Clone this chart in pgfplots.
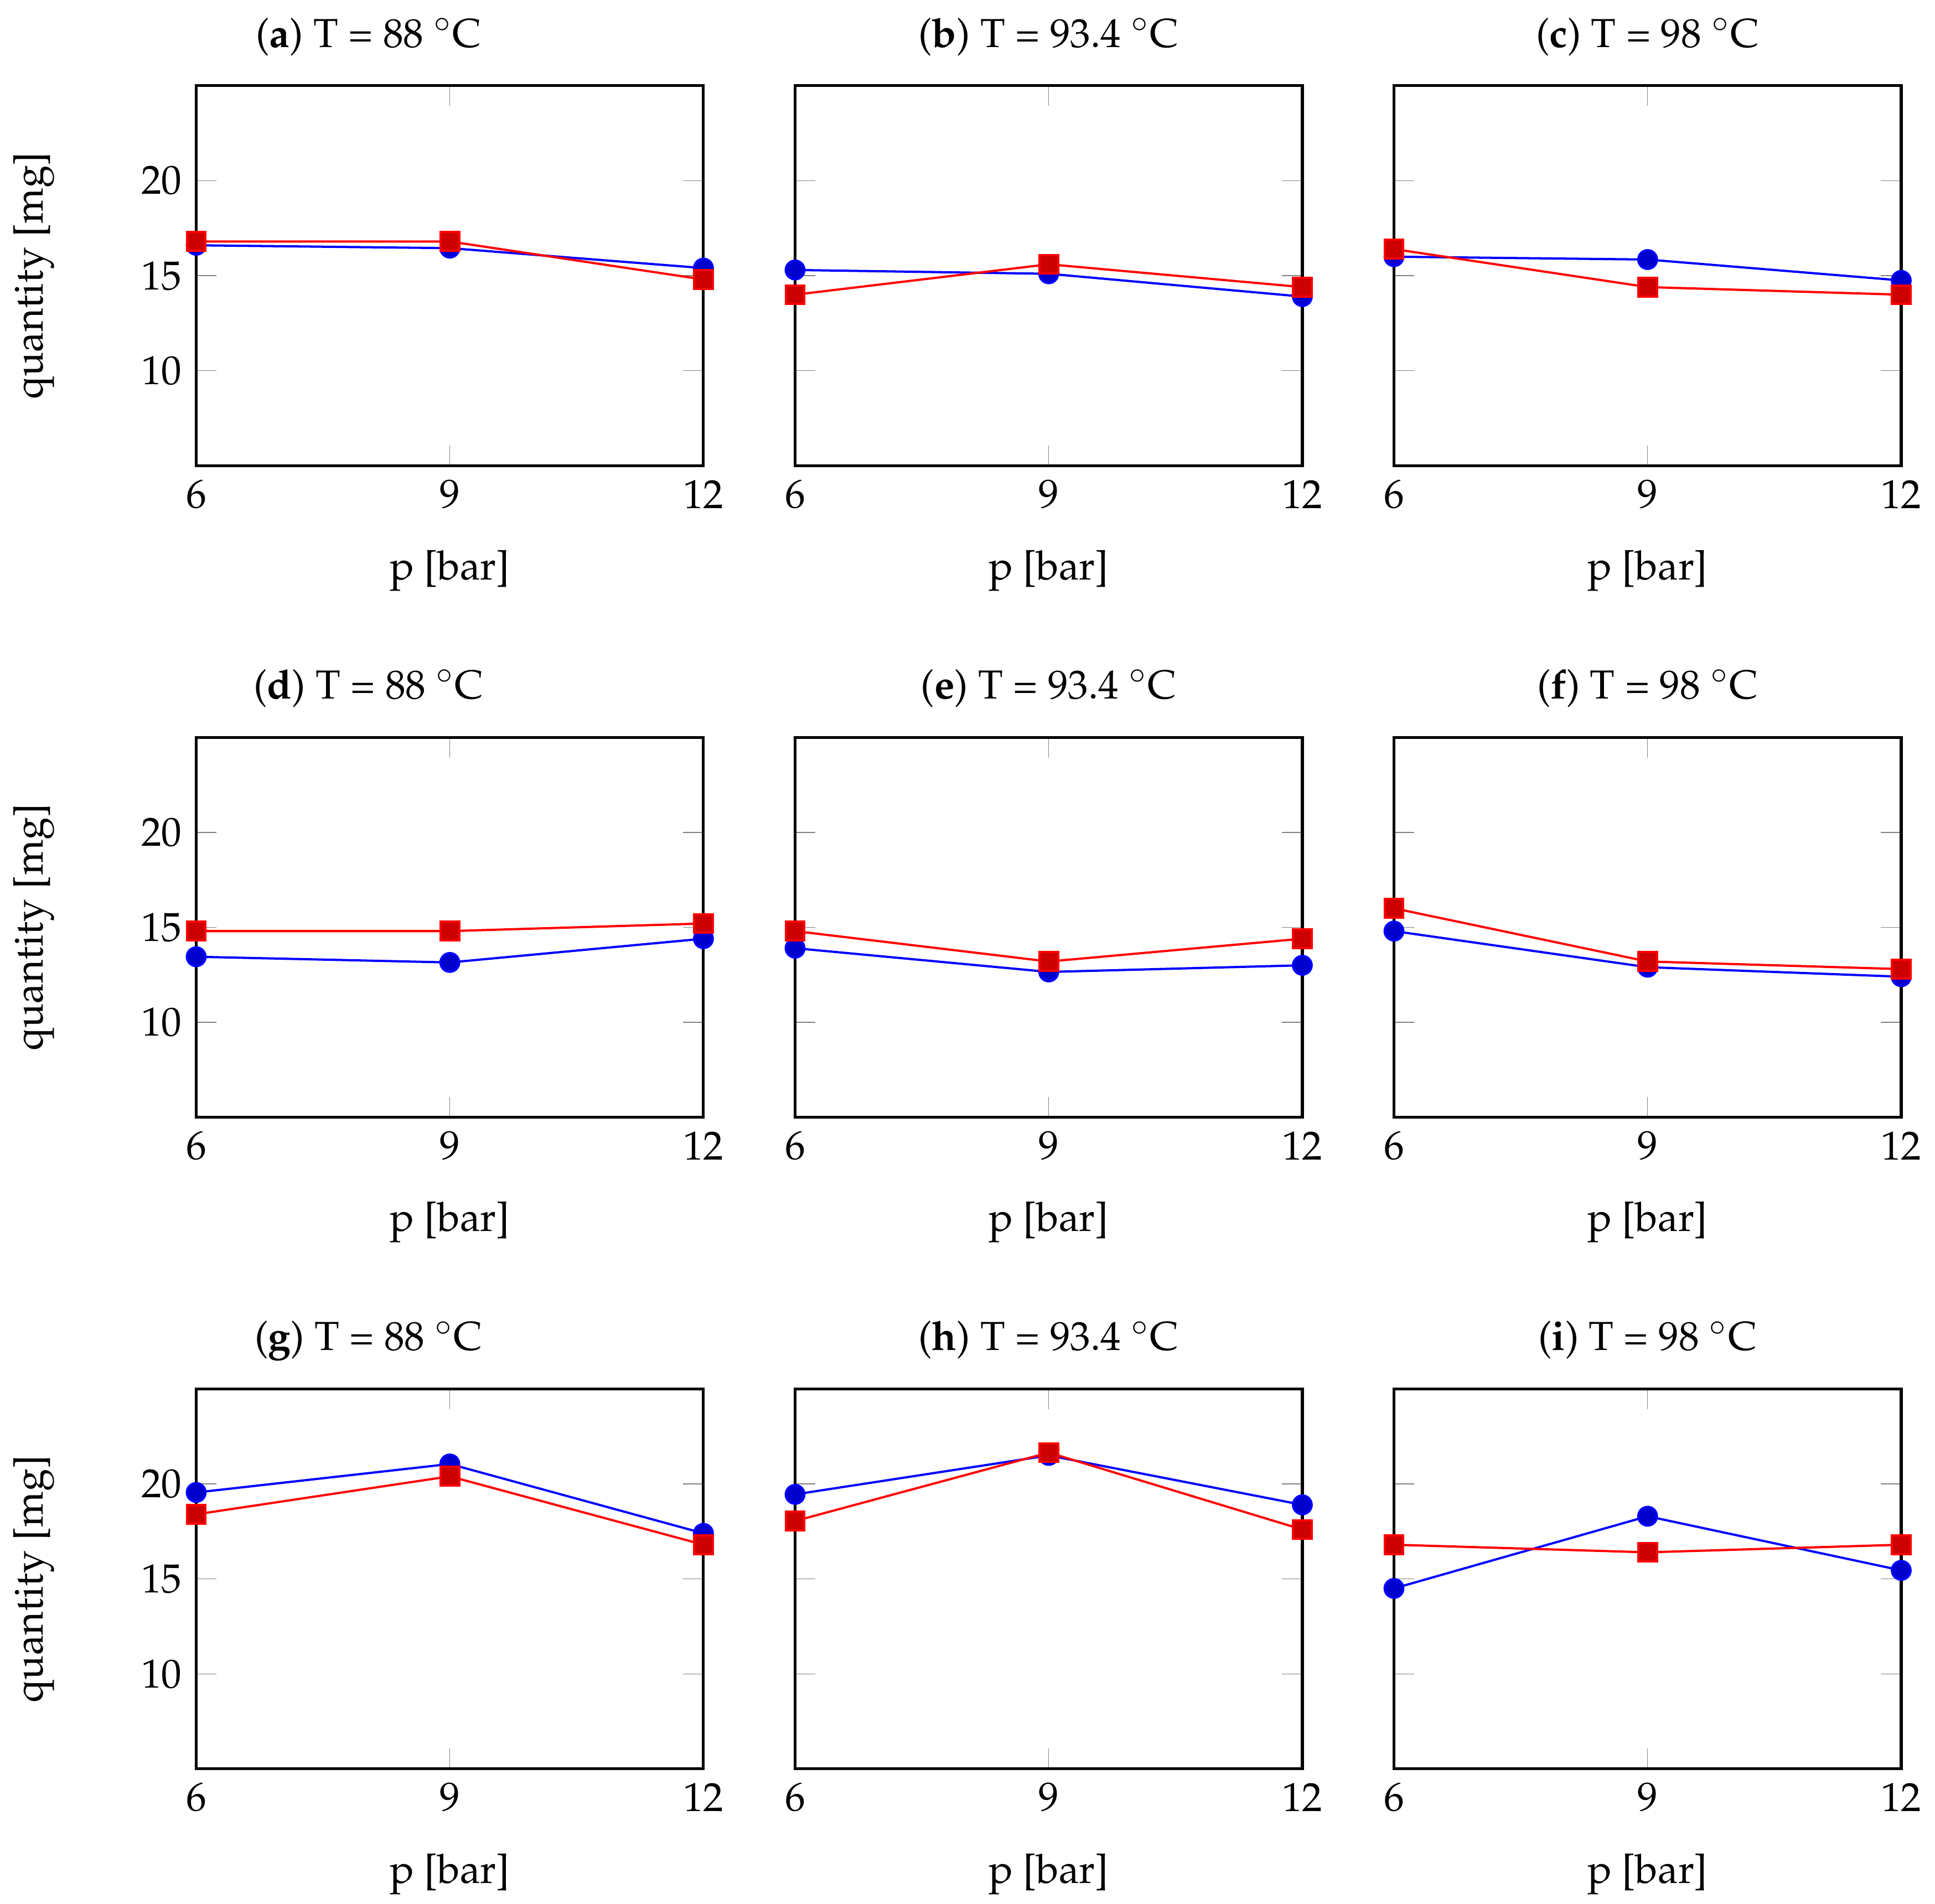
\documentclass[border=0pt]{standalone}
\usepackage[T1]{fontenc}
\usepackage{mathpazo}
\usepackage{pgfplots}
\pgfplotsset{compat=1.18}
\usepgfplotslibrary{groupplots}

\newcommand{\ttl}[2]{(\textbf{#1}) T = #2 $^{\circ}$C}

\begin{document}
\begin{tikzpicture}
\begin{groupplot}[
    group style={group size=3 by 3, horizontal sep=22.6pt, vertical sep=67pt,
                 yticklabels at=edge left, ylabels at=edge left},
    scale only axis, width=125.1pt, height=93.7pt,
    xmin=6, xmax=12, ymin=5, ymax=25,
    xtick={6,9,12}, ytick={10,15,20},
    xlabel={p [bar]}, ylabel={quantity [mg]},
    xlabel shift=4.5pt, ylabel shift=14.6pt,
    xlabel style={inner ysep=2.3pt},
    tick style={gray}, major tick length=5pt,
    axis line style={line width=0.7pt},
    every axis title/.style={at={(0.5,1)}, anchor=base, yshift=9.5pt, inner ysep=4.4pt},
    every axis plot/.append style={line width=0.55pt, mark size=2.3pt},
]
% row 1
\nextgroupplot[title={\ttl{a}{88}}, title style={xshift=-20pt}]
\addplot[blue, mark=*, mark options={fill=blue!80!black}] coordinates {(6,16.6) (9,16.45) (12,15.4)};
\addplot[red, mark=square*, mark options={fill=red!80!black}] coordinates {(6,16.8) (9,16.8) (12,14.8)};
\nextgroupplot[title={\ttl{b}{93.4}}]
\addplot[blue, mark=*, mark options={fill=blue!80!black}] coordinates {(6,15.3) (9,15.1) (12,13.9)};
\addplot[red, mark=square*, mark options={fill=red!80!black}] coordinates {(6,14.0) (9,15.6) (12,14.4)};
\nextgroupplot[title={\ttl{c}{98}}]
\addplot[blue, mark=*, mark options={fill=blue!80!black}] coordinates {(6,16.0) (9,15.85) (12,14.75)};
\addplot[red, mark=square*, mark options={fill=red!80!black}] coordinates {(6,16.4) (9,14.4) (12,14.0)};
% row 2
\nextgroupplot[title={\ttl{d}{88}}, title style={xshift=-20pt}]
\addplot[blue, mark=*, mark options={fill=blue!80!black}] coordinates {(6,13.45) (9,13.15) (12,14.4)};
\addplot[red, mark=square*, mark options={fill=red!80!black}] coordinates {(6,14.8) (9,14.8) (12,15.2)};
\nextgroupplot[title={\ttl{e}{93.4}}]
\addplot[blue, mark=*, mark options={fill=blue!80!black}] coordinates {(6,13.9) (9,12.65) (12,13.0)};
\addplot[red, mark=square*, mark options={fill=red!80!black}] coordinates {(6,14.8) (9,13.2) (12,14.4)};
\nextgroupplot[title={\ttl{f}{98}}]
\addplot[blue, mark=*, mark options={fill=blue!80!black}] coordinates {(6,14.8) (9,12.9) (12,12.4)};
\addplot[red, mark=square*, mark options={fill=red!80!black}] coordinates {(6,16.0) (9,13.2) (12,12.8)};
% row 3
\nextgroupplot[title={\ttl{g}{88}}, title style={xshift=-20pt}]
\addplot[blue, mark=*, mark options={fill=blue!80!black}] coordinates {(6,19.55) (9,21.05) (12,17.4)};
\addplot[red, mark=square*, mark options={fill=red!80!black}] coordinates {(6,18.4) (9,20.4) (12,16.8)};
\nextgroupplot[title={\ttl{h}{93.4}}]
\addplot[blue, mark=*, mark options={fill=blue!80!black}] coordinates {(6,19.45) (9,21.5) (12,18.9)};
\addplot[red, mark=square*, mark options={fill=red!80!black}] coordinates {(6,18.05) (9,21.65) (12,17.6)};
\nextgroupplot[title={\ttl{i}{98}}]
\addplot[blue, mark=*, mark options={fill=blue!80!black}] coordinates {(6,14.5) (9,18.3) (12,15.45)};
\addplot[red, mark=square*, mark options={fill=red!80!black}] coordinates {(6,16.8) (9,16.4) (12,16.8)};
\end{groupplot}
\end{tikzpicture}
\end{document}
